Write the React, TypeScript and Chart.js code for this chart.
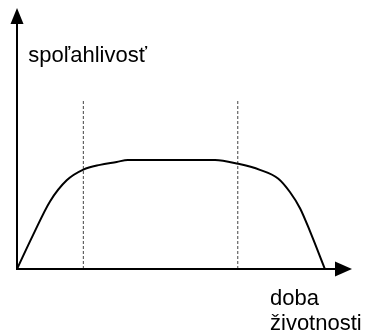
import React, { useEffect, useRef } from "react";
import { Chart, registerables } from "chart.js";

Chart.register(...registerables);

// time (arbitrary units) and reliability (relative)
const curveX = [0, 4.85, 10, 15.06, 20.1, 25.15, 30.2, 33.6, 60, 67.06, 73.6, 79.2, 82.7, 85.8, 88.8, 93.3];
const curveY = [0, 0.13, 0.259, 0.34, 0.381, 0.399, 0.41, 0.418, 0.418, 0.403, 0.38, 0.346, 0.295, 0.232, 0.144, 0];
const dividerX = [20.1, 66.9];
const dividerTop = 0.65;
const yAxisLabel = "spoľahlivosť";
const xAxisLabel = ["doba", "životnosti"];

const decorations = {
  id: "decorations",
  afterDatasetsDraw(chart: any) {
    const ctx = chart.ctx;
    const xs = chart.scales.x;
    const ys = chart.scales.y;
    const x0 = xs.getPixelForValue(0);
    const y0 = ys.getPixelForValue(0);
    const xEnd = xs.getPixelForValue(100) + 5;
    const yEnd = ys.getPixelForValue(1);
    ctx.save();
    ctx.strokeStyle = "#000";
    ctx.fillStyle = "#000";
    ctx.lineWidth = 2;
    ctx.lineCap = "butt";
    // y axis
    ctx.beginPath();
    ctx.moveTo(x0, y0 + 1);
    ctx.lineTo(x0, yEnd + 12);
    ctx.stroke();
    ctx.beginPath();
    ctx.moveTo(x0, yEnd);
    ctx.lineTo(x0 - 6.5, yEnd + 16);
    ctx.lineTo(x0 + 6.5, yEnd + 16);
    ctx.closePath();
    ctx.fill();
    // x axis
    ctx.beginPath();
    ctx.moveTo(x0 - 1, y0);
    ctx.lineTo(xEnd - 12, y0);
    ctx.stroke();
    ctx.beginPath();
    ctx.moveTo(xEnd, y0);
    ctx.lineTo(xEnd - 17, y0 - 7.5);
    ctx.lineTo(xEnd - 17, y0 + 7.5);
    ctx.closePath();
    ctx.fill();
    // labels
    ctx.font = '22px "Liberation Sans", Arial, sans-serif';
    ctx.textBaseline = "alphabetic";
    ctx.textAlign = "left";
    ctx.fillText(yAxisLabel, 28.3, 62);
    ctx.fillText(xAxisLabel[0], 270, 305);
    ctx.fillText(xAxisLabel[1], 270, 330);
    ctx.restore();
  },
};

export default function App() {
  const ref = useRef<HTMLCanvasElement | null>(null);
  useEffect(() => {
    if (!ref.current) return;
    const curve = curveX.map((x, i) => ({ x, y: curveY[i] }));
    const dividers = dividerX.map((x) => ({
      type: "line" as const,
      data: [
        { x, y: 0 },
        { x, y: dividerTop },
      ],
      borderColor: "#444",
      borderWidth: 1,
      borderDash: [3, 2],
      pointRadius: 0,
      tension: 0,
    }));
    const chart = new Chart(ref.current, {
      type: "line",
      data: {
        datasets: [
          {
            data: curve,
            borderColor: "#000",
            borderWidth: 2,
            pointRadius: 0,
            cubicInterpolationMode: "monotone",
            fill: false,
          },
          ...dividers,
        ] as any,
      },
      options: {
        animation: false,
        responsive: false,
        maintainAspectRatio: false,
        layout: { padding: { left: 17, right: 35, top: 8, bottom: 67 } },
        plugins: { legend: { display: false }, tooltip: { enabled: false } },
        scales: {
          x: { type: "linear", min: 0, max: 100, display: false },
          y: { type: "linear", min: 0, max: 1, display: false },
        },
      },
      plugins: [decorations],
    });
    return () => chart.destroy();
  }, []);
  return (
    <div style={{ position: "fixed", left: 0, top: 0, width: 382, height: 336, background: "#fff" }}>
      <canvas ref={ref} width={382} height={336} style={{ width: 382, height: 336 }} />
    </div>
  );
}
